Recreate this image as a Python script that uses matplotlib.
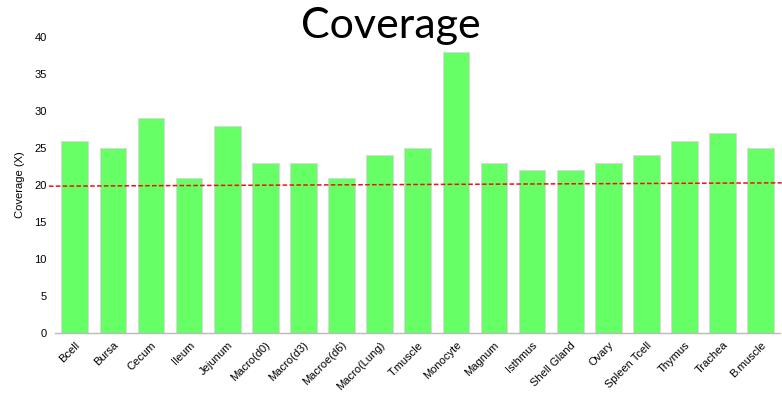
import numpy as np
import matplotlib.pyplot as plt

tissues = ['Bcell', 'Bursa', 'Cecum', 'Ileum', 'Jejunum', 'Macro(d0)', 'Macro(d3)',
           'Macroe(d6)', 'Macro(Lung)', 'T.muscle', 'Monocyte', 'Magnum', 'Isthmus',
           'Shell Gland', 'Ovary', 'Spleen Tcell', 'Thymus', 'Trachea', 'B.muscle']
coverage = [26, 25, 29, 21, 28, 23, 23, 21, 24, 25, 38, 23, 22, 22, 23, 24, 26, 27, 25]
yticks = [0, 5, 10, 15, 20, 25, 30, 35, 40]

# dashed threshold line (slightly tilted in the original)
cutoff_x = [-0.68, 18.55]
cutoff_y = [19.85, 20.3]

plt.rcParams['font.family'] = ['Liberation Sans', 'DejaVu Sans']

fig = plt.figure(figsize=(7.82, 3.95), dpi=100)
ax = fig.add_axes([0.0703, 0.157, 0.927, 0.749])

x = np.arange(len(tissues))
ax.bar(x, coverage, width=0.7, color='#66ff66', edgecolor='#d8d8d8', linewidth=0.7, zorder=2)
ax.plot(cutoff_x, cutoff_y, color='#ee1111', linestyle=(0, (3, 1.5)), linewidth=1.1,
        clip_on=False, zorder=3)

ax.set_xlim(-0.52, 18.5)
ax.set_ylim(0, 40)
ax.set_yticks(yticks)
ax.set_xticks(x)
ax.set_xticklabels(tissues, rotation=45, ha='right', rotation_mode='anchor', fontsize=8)
ax.tick_params(axis='both', length=0, labelsize=8, pad=6)
ax.tick_params(axis='x', pad=5)
ax.set_ylabel('Coverage (X)', fontsize=8, labelpad=7)

for side in ['top', 'right', 'left']:
    ax.spines[side].set_visible(False)
ax.spines['bottom'].set_color('#bbbbbb')
ax.spines['bottom'].set_linewidth(1.0)

fig.text(0.5, 1 - 26 / 395, 'Coverage', ha='center', va='center', fontsize=31, family='Lato')

plt.savefig('out.png', dpi=100)
